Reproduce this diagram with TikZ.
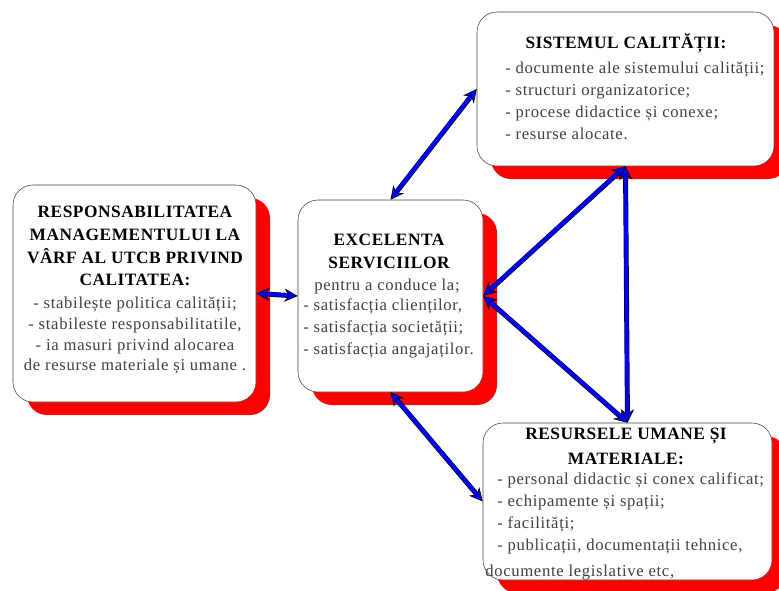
\documentclass[tikz,border=0pt]{standalone}
\usepackage{fontspec}
\setmainfont{Liberation Serif}
\newfontfamily\bodyfont[LetterSpace=4]{Liberation Serif}
\newfontfamily\headfont[LetterSpace=3]{Liberation Serif}
\usetikzlibrary{shadows,arrows.meta}

\tikzset{
  box/.style={draw=black!75, fill=white, thin, rounded corners=15pt,
    drop shadow={shadow xshift=10.5pt, shadow yshift=-9.75pt, fill=red, opacity=1}},
  head/.style={font=\headfont\fontsize{13}{17}\selectfont\bfseries, align=center, inner sep=0pt},
  body/.style={font=\bodyfont\fontsize{12.5}{16.5}\selectfont, text=black!75, inner sep=0pt},
  arr/.style={draw=black, line width=0.45pt, double=blue, double distance=2.8pt,
    {Stealth[length=10pt,width=10pt,fill=blue]}-{Stealth[length=10pt,width=10pt,fill=blue]}}
}

\begin{document}
\begin{tikzpicture}[x=0.75pt,y=-0.75pt]
\useasboundingbox (0,0) rectangle (779,590);

\node[box, minimum width=222.75pt, minimum height=115.5pt] (sis) at (625.5,89) {};
\node[box, minimum width=182.25pt, minimum height=162.75pt] (resp) at (134.5,293.5) {};
\node[box, minimum width=138.75pt, minimum height=144pt] (exc) at (390.5,296) {};
\node[box, minimum width=216.75pt, minimum height=117.75pt] (res) at (627.5,501.5) {};

\node[head, anchor=north] (sisHead) at (626,33) {SISTEMUL CALITĂȚII:};
\node[body, anchor=north west, align=left] (sisList) at (505,62)
  {- documente ale sistemului calității;\\- structuri organizatorice;\\- procese didactice și conexe;\\- resurse alocate.};

\node[head, anchor=north] (respHead) at (135,206)
  {RESPONSABILITATEA\\MANAGEMENTULUI LA\\VÂRF AL UTCB PRIVIND\\CALITATEA:};
\node[body, anchor=north, align=center, font=\bodyfont\fontsize{12.5}{15.5}\selectfont] (respList) at (135,297)
  {- stabilește politica calității;\\- stabileste responsabilitatile,\\- ia masuri privind alocarea\\de resurse materiale și umane .};

\node[head, anchor=north] (excHead) at (389,234)
  {EXCELENTA\\SERVICIILOR};
\node[body, anchor=north] (excSub) at (387,279) {pentru a conduce la;};
\node[body, anchor=north west, align=left] (excList) at (303,298)
  {- satisfacția clienților,\\- satisfacția societății;\\- satisfacția angajaților.};

\node[head, anchor=north, font=\headfont\fontsize{13}{18.75}\selectfont\bfseries] (resHead) at (626,428)
  {RESURSELE UMANE ȘI\\MATERIALE:};
\node[body, anchor=north west, align=left] (resList) at (497,472)
  {- personal didactic și conex calificat;\\- echipamente și spații;\\- facilități;\\- publicații, documentații tehnice,};
\node[body, anchor=north west] (resLast) at (485,565) {documente legislative etc,};

\draw[arr] (sis.west) -- (exc.north);
\draw[arr] (resp.east) -- (exc.west);
\draw[arr] (exc.east) -- (sis.south);
\draw[arr] (exc.east) -- (res.north);
\draw[arr] (sis.south) -- (res.north);
\draw[arr] (exc.south) -- (res.west);
\end{tikzpicture}
\end{document}
